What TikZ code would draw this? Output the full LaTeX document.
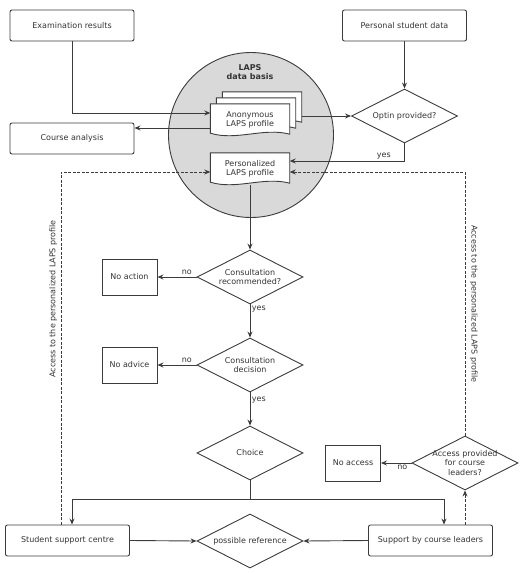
\documentclass[tikz,border=0pt]{standalone}
\usepackage{fontspec}
\setmainfont{DejaVu Sans}
\usetikzlibrary{shapes.geometric,arrows.meta,backgrounds}
\definecolor{linegray}{HTML}{3C3C3C}
\definecolor{textgray}{HTML}{333333}
\definecolor{basisgray}{HTML}{D9D9D9}

% outline of a document symbol around a node (wavy bottom)
\newcommand{\docoutline}[1]{%
  \begin{pgfonlayer}{background}
  \draw[docline] (#1.north west) -- (#1.north east) -- ([yshift=2pt]#1.south east)
    .. controls ([xshift=-26pt,yshift=9pt]#1.south east) and ([xshift=26pt,yshift=-5pt]#1.south west)
    .. ([yshift=3pt]#1.south west) -- cycle;
  \end{pgfonlayer}}

\begin{document}
\begin{tikzpicture}[x=1pt,y=-1pt, >={Stealth[length=6pt,width=5pt]},
	every node/.style={font=\fontsize{8}{9.5}\selectfont, text=textgray},
	box/.style={draw=linegray, line width=0.9pt, rounded corners=2pt, minimum width=124pt, minimum height=31pt, inner sep=2pt},
	sqbox/.style={draw=linegray, line width=0.9pt, minimum width=55pt, minimum height=36pt, inner sep=2pt},
	decision/.style={draw=linegray, line width=0.9pt, diamond, aspect=2, minimum width=106pt, minimum height=54pt, inner sep=0pt, align=center},
	docnode/.style={minimum width=79pt, minimum height=32pt, inner sep=0pt, align=center},
	docline/.style={draw=linegray, line width=0.9pt, fill=white},
	line/.style={draw=linegray, line width=0.9pt},
	flow/.style={line, ->},
	access/.style={dash pattern=on 3pt off 1.5pt},
	lbl/.style={inner sep=1.5pt}]

	\useasboundingbox (0,0) rectangle (528,573);

	% data basis
	\begin{pgfonlayer}{background}
	\node[circle, draw=linegray, line width=0.9pt, fill=basisgray, minimum size=165pt, inner sep=0pt] (basis) at (251,135) {};
	\end{pgfonlayer}
	\node[font=\fontsize{8}{9.5}\selectfont\bfseries, align=center] (basislabel) at (250,72) {LAPS\\data basis};

	\node[docnode] (anon) at (250,120) {Anonymous\\LAPS profile};
	\node[docnode, xshift=6pt, yshift=6pt] (anon2) at (anon) {};
	\node[docnode, xshift=12pt, yshift=12pt] (anon3) at (anon) {};
	\node[docnode] (pers) at (250,169) {Personalized\\LAPS profile};
	\docoutline{anon3}
	\docoutline{anon2}
	\docoutline{anon}
	\docoutline{pers}

	% boxes
	\node[box] (exam) at (72,25.5) {Examination results};
	\node[box] (psd) at (404.5,25.5) {Personal student data};
	\node[box] (course) at (72,138.5) {Course analysis};
	\node[box] (ssc) at (67.5,540.5) {Student support centre};
	\node[box] (scl) at (430.5,540.5) {Support by course leaders};
	\node[sqbox] (noaction) at (129.5,277) {No action};
	\node[sqbox] (noadvice) at (129.5,365) {No advice};
	\node[sqbox] (noaccess) at (353,463) {No access};

	% decisions
	\node[decision] (optin) at (404.5,116) {Optin provided?};
	\node[decision] (recommend) at (250,277) {Consultation\\recommended?};
	\node[decision] (decision) at (250,365) {Consultation\\decision};
	\node[decision] (choice) at (250,453) {Choice};
	\node[decision] (reference) at (250,541) {possible reference};
	\node[decision, inner sep=-6pt] (accprov) at (465,463) {Access provided\\for course\\leaders?};

	% connectors
	\coordinate (courseIn) at ([yshift=-8pt]anon.west);
	\coordinate (persYes) at ([yshift=8pt]pers.east);
	\coordinate (persInL) at ([yshift=-3pt]pers.west);
	\coordinate (persInR) at ([yshift=-3pt]pers.east);
	\coordinate (split) at ([yshift=-19pt]choice.south);

	\draw[flow] (exam.south) |- ([yshift=7pt]anon.west);
	\draw[flow] (courseIn) -- (courseIn -| course.east);
	\draw[flow] (anon3.east |- optin.west) -- (optin.west);
	\draw[flow] (psd.south) -- (optin.north);
	\draw[flow] (optin.south) |- node[above, pos=0.59, lbl] {yes} (persYes);
	\draw[flow, access] ([xshift=-6.5pt]ssc.north) |- node[rotate=90, anchor=south, pos=0.32, inner sep=3.5pt] {Access to the personalized LAPS profile} (persInL);
	\draw[flow, access] (accprov.north) |- node[rotate=-90, anchor=south, pos=0.25, inner sep=4.5pt] {Access to the personalized LAPS profile} (persInR);
	\draw[flow, access] (scl.north -| accprov.south) -- (accprov.south);

	\draw[flow] (pers.south) -- (recommend.north);
	\draw[flow] (recommend.west) -- node[above, pos=0.25, lbl] {no} (noaction.east);
	\draw[flow] (recommend.south) -- node[right, pos=0.15, lbl] {yes} (decision.north);
	\draw[flow] (decision.west) -- node[above, pos=0.25, lbl] {no} (noadvice.east);
	\draw[flow] (decision.south) -- node[right, pos=0.22, lbl] {yes} (choice.north);
	\draw[line] (choice.south) -- (split);
	\draw[flow] (split) -| ([xshift=4.5pt]ssc.north);
	\draw[flow] (split) -| ([xshift=13.5pt]scl.north);
	\draw[flow] (ssc.east) -- (reference.west);
	\draw[flow] (scl.west) -- (reference.east);
	\draw[flow] (accprov.west) -- node[below, pos=0.3, lbl] {no} (noaccess.east);

\end{tikzpicture}
\end{document}
